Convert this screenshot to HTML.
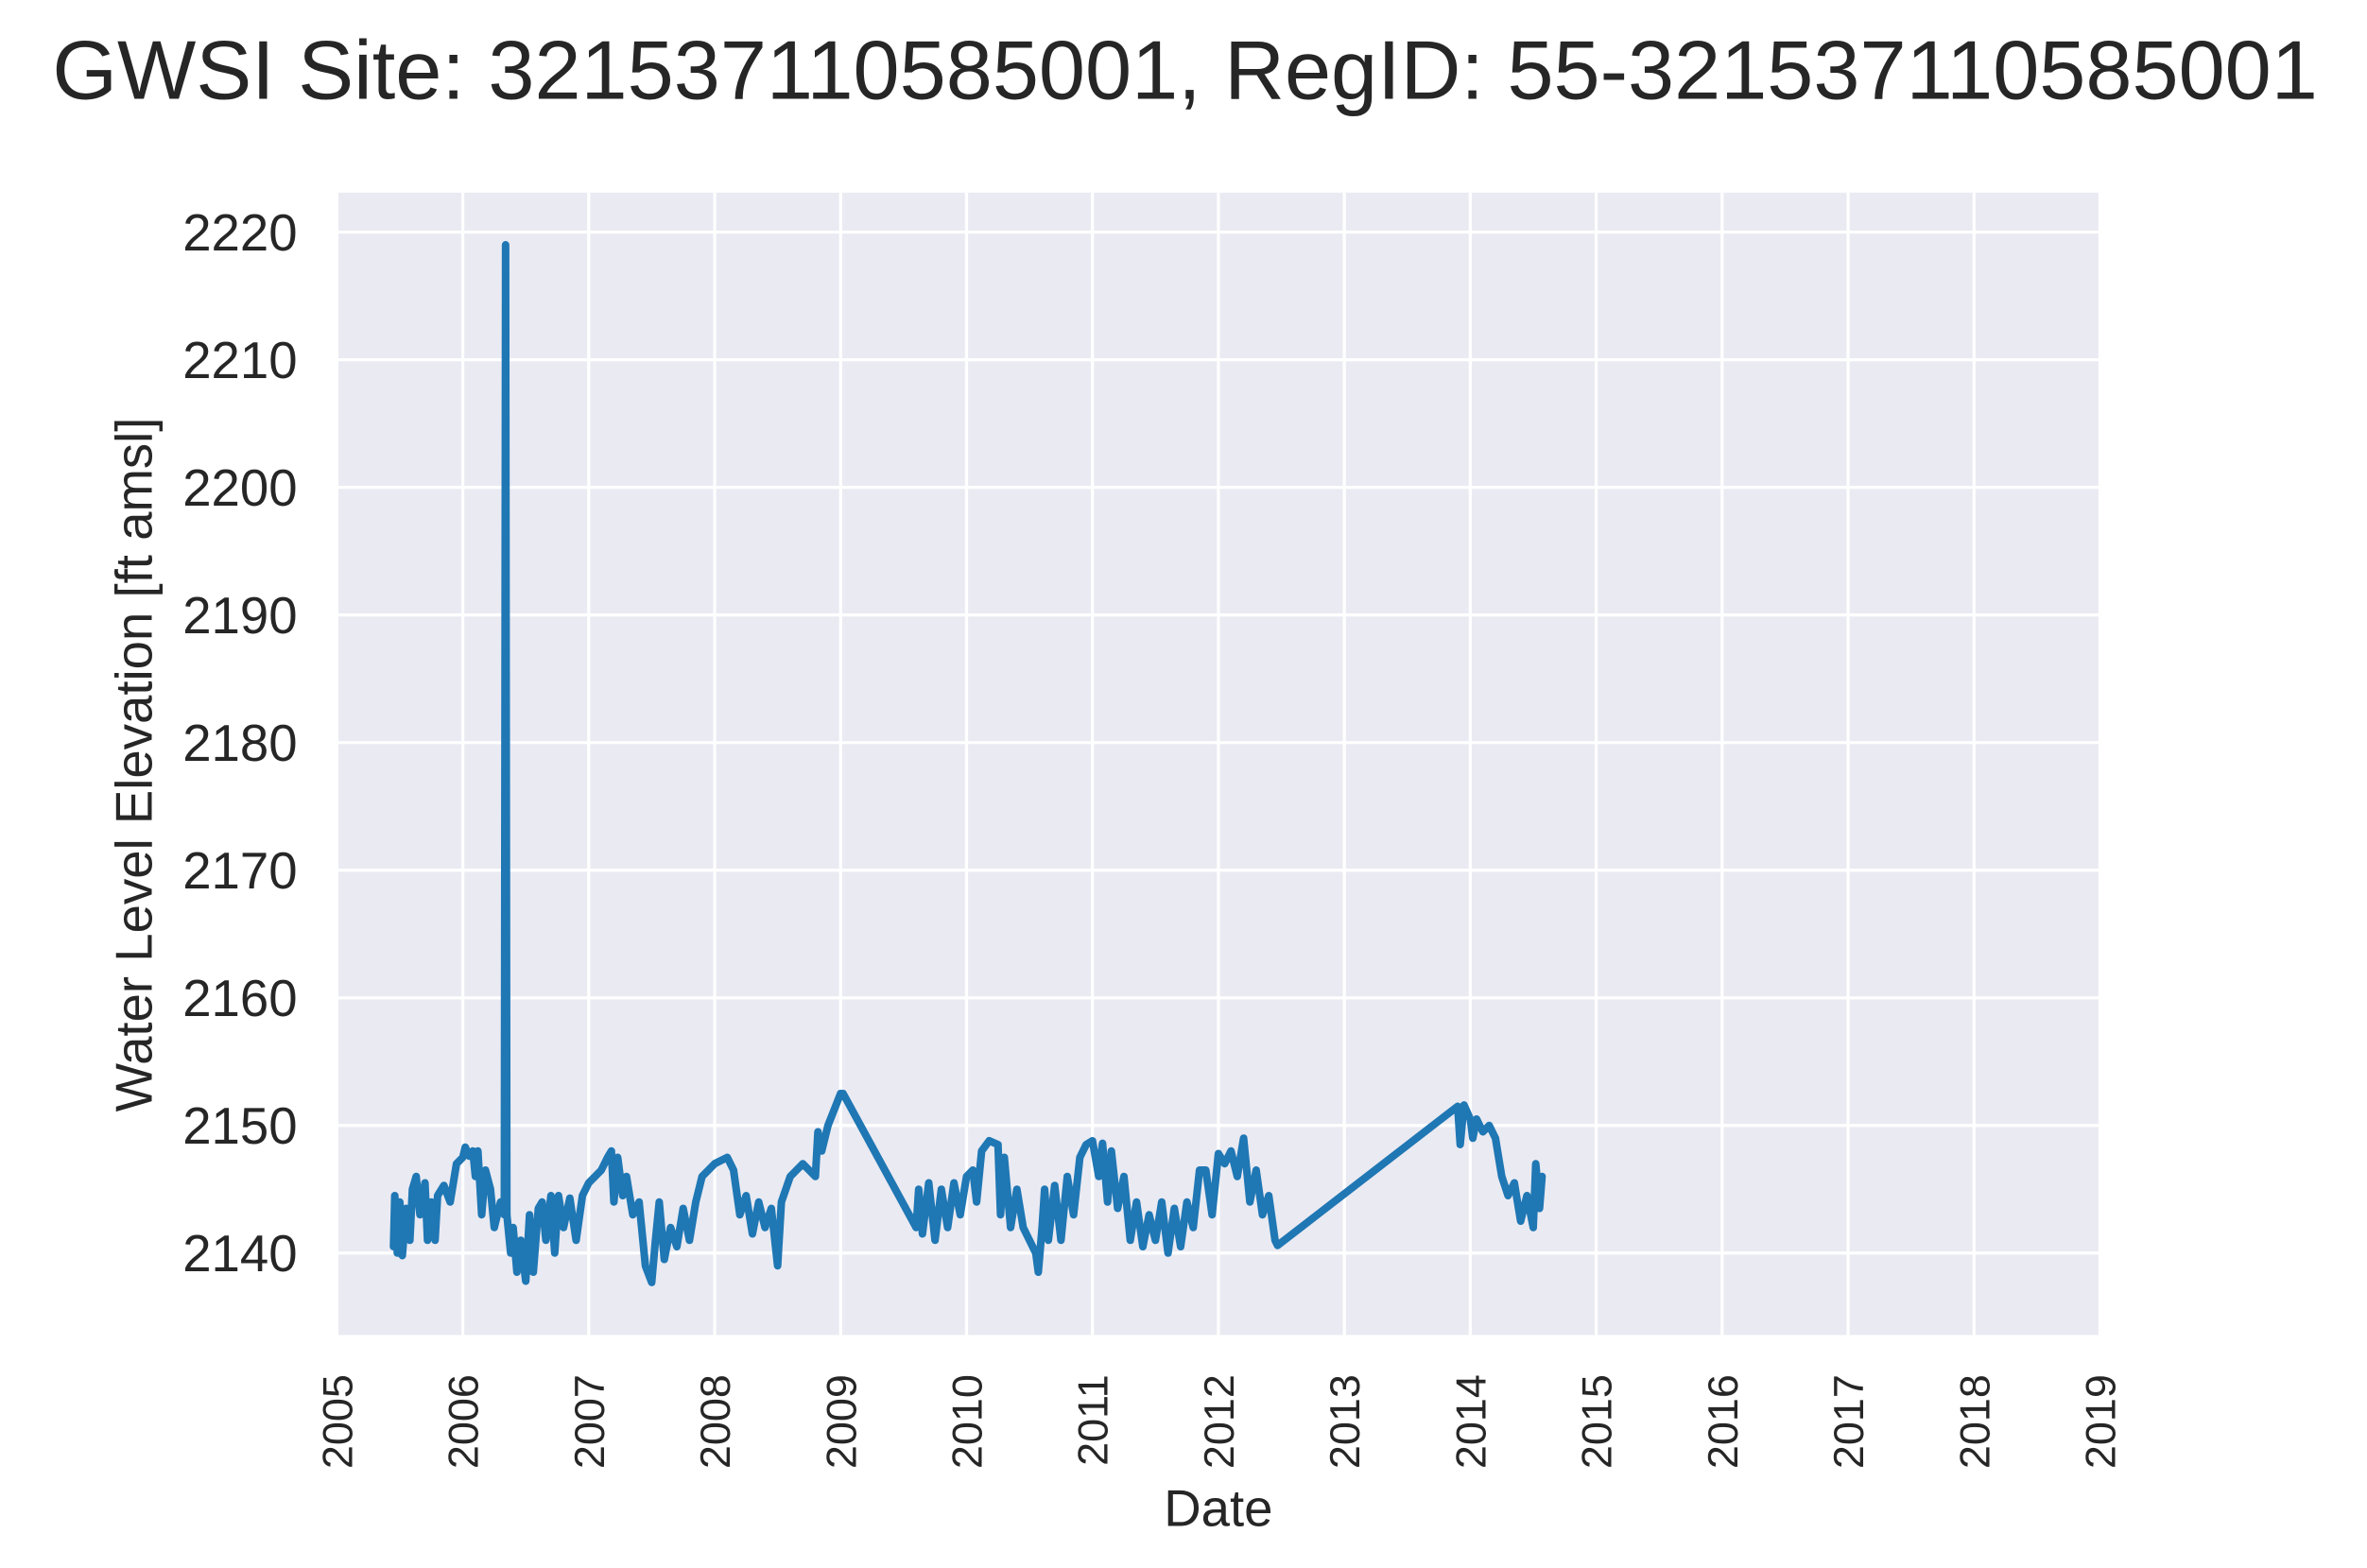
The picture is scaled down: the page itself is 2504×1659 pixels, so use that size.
<!DOCTYPE html>
<html><head><meta charset="utf-8"><style>
html,body{margin:0;padding:0;background:#fff;}
svg{display:block;}
text{font-family:"Liberation Sans",Arial,sans-serif;fill:#262626;}
</style></head><body>
<svg id="chart" width="2504" height="1659" viewBox="0 0 1560 1033.6" preserveAspectRatio="none" xmlns="http://www.w3.org/2000/svg">
<text x="781" y="65" font-size="55" text-anchor="middle">GWSI Site: 321537110585001, RegID: 55-321537110585001</text>
<rect x="222" y="127" width="1162" height="753" fill="#eaeaf2"/>
<g id="grid"></g>
<g id="yticks"></g>
<g id="xticks"></g>
<path id="series" fill="none" stroke="#1f77b4" stroke-width="5" stroke-linejoin="round" stroke-linecap="round"/>
<text x="803" y="1006" font-size="34" text-anchor="middle">Date</text>
<text transform="translate(100,504) rotate(-90)" font-size="34" text-anchor="middle">Water Level Elevation [ft amsl]</text>
</svg>
<script>
const yTicks = [2140,2150,2160,2170,2180,2190,2200,2210,2220];
const xTicks = [2005,2006,2007,2008,2009,2010,2011,2012,2013,2014,2015,2016,2017,2018,2019];
const dates = [2005.45,2005.46,2005.48,2005.5,2005.52,2005.55,2005.58,2005.6,2005.63,2005.66,2005.7,2005.72,2005.75,2005.78,2005.8,2005.85,2005.9,2005.95,2006.0,2006.02,2006.05,2006.08,2006.1,2006.12,2006.15,2006.18,2006.22,2006.25,2006.3,2006.33,2006.34,2006.35,2006.38,2006.4,2006.43,2006.46,2006.5,2006.53,2006.56,2006.6,2006.63,2006.66,2006.7,2006.73,2006.76,2006.8,2006.85,2006.9,2006.95,2007.0,2007.1,2007.15,2007.18,2007.2,2007.23,2007.27,2007.3,2007.35,2007.4,2007.45,2007.5,2007.53,2007.56,2007.6,2007.65,2007.7,2007.75,2007.8,2007.85,2007.9,2007.95,2008.0,2008.1,2008.15,2008.2,2008.25,2008.3,2008.35,2008.4,2008.45,2008.5,2008.53,2008.6,2008.7,2008.8,2008.82,2008.85,2008.9,2009.0,2009.02,2009.6,2009.62,2009.65,2009.7,2009.75,2009.8,2009.85,2009.9,2009.95,2010.0,2010.05,2010.08,2010.12,2010.18,2010.25,2010.27,2010.3,2010.35,2010.4,2010.45,2010.55,2010.57,2010.6,2010.62,2010.65,2010.7,2010.75,2010.8,2010.85,2010.9,2010.95,2011.0,2011.05,2011.08,2011.12,2011.15,2011.2,2011.25,2011.3,2011.35,2011.4,2011.45,2011.5,2011.55,2011.6,2011.65,2011.7,2011.75,2011.8,2011.85,2011.9,2011.95,2012.0,2012.05,2012.1,2012.15,2012.2,2012.25,2012.3,2012.35,2012.4,2012.45,2012.47,2013.9,2013.92,2013.95,2014.0,2014.02,2014.05,2014.1,2014.15,2014.2,2014.25,2014.3,2014.35,2014.4,2014.45,2014.5,2014.52,2014.55,2014.57];
const levels = [2140.5,2144.5,2140,2144,2139.8,2143.5,2141,2145,2146,2143,2145.5,2141,2144,2141,2144.5,2145.3,2144,2147,2147.5,2148.3,2147.6,2148,2146,2148,2143,2146.5,2145,2142,2144,2143,2219,2143,2140,2142,2138.5,2141,2137.8,2143,2138.5,2143.5,2144,2141,2144.5,2140,2144.5,2142,2144.3,2141,2144.5,2145.5,2146.5,2147.5,2148,2144,2147.5,2144.5,2146,2143,2144,2139,2137.7,2141,2144,2139.5,2142,2140.5,2143.5,2141,2144,2146,2146.5,2147,2147.5,2146.5,2143,2144.5,2141.5,2144,2142,2143.5,2139,2144,2146,2147,2146,2149.5,2148,2150,2152.5,2152.5,2142,2145,2141.5,2145.5,2141,2145,2142,2145.5,2143,2146,2146.5,2144,2148,2148.8,2148.5,2143,2147.5,2142,2145,2142,2140,2138.5,2142,2145,2141,2145.3,2141,2146,2143,2147.5,2148.5,2148.8,2146,2148.6,2144,2148,2143.5,2146,2141,2144,2140.5,2143,2141,2144,2140,2143.5,2140.5,2144,2142,2146.5,2146.5,2143,2147.8,2147,2148,2146,2149,2144,2146.5,2143,2144.5,2141,2140.6,2151.5,2148.5,2151.6,2150.5,2149,2150.5,2149.5,2150,2149,2146,2144.5,2145.5,2142.5,2144.5,2142,2147,2143.5,2146];

const NS = 'http://www.w3.org/2000/svg';
const L = 222, R = 1384, T = 127, B = 880;
const xs = v => L + (v - 2005) / (2019 - 2005) * (R - L);
const ys = v => 826 - (v - 2140) / 80 * (826 - 153);
const grid = document.getElementById('grid');
const yg = document.getElementById('yticks');
const xg = document.getElementById('xticks');
yTicks.forEach(t => {
  const ln = document.createElementNS(NS, 'line');
  
  
  ln.setAttribute('x1', L); ln.setAttribute('x2', R);
  ln.setAttribute('y1', ys(t)); ln.setAttribute('y2', ys(t));
  ln.setAttribute('stroke', '#fff'); ln.setAttribute('stroke-width', '2');
  grid.appendChild(ln);
  const tx = document.createElementNS(NS, 'text');
  
  
  tx.setAttribute('x', 196); tx.setAttribute('y', ys(t) + 12);
  tx.setAttribute('font-size', '34'); tx.setAttribute('text-anchor', 'end');
  tx.textContent = t;
  yg.appendChild(tx);
});
xTicks.forEach(t => {
  const ln = document.createElementNS(NS, 'line');
  
  
  ln.setAttribute('x1', xs(t)); ln.setAttribute('x2', xs(t));
  ln.setAttribute('y1', T); ln.setAttribute('y2', B);
  ln.setAttribute('stroke', '#fff'); ln.setAttribute('stroke-width', '2');
  grid.appendChild(ln);
  const tx = document.createElementNS(NS, 'text');
  
  
  const x = xs(t) + 10, y = 906;
  tx.setAttribute('transform', 'translate(' + x + ',' + y + ') rotate(-90)');
  tx.setAttribute('font-size', '28'); tx.setAttribute('text-anchor', 'end');
  tx.textContent = t;
  xg.appendChild(tx);
});
let d = '';
dates.forEach((v, i) => { d += (i ? 'L' : 'M') + xs(v).toFixed(2) + ',' + ys(levels[i]).toFixed(2); });
document.getElementById('series').setAttribute('d', d);
</script>
</body></html>
